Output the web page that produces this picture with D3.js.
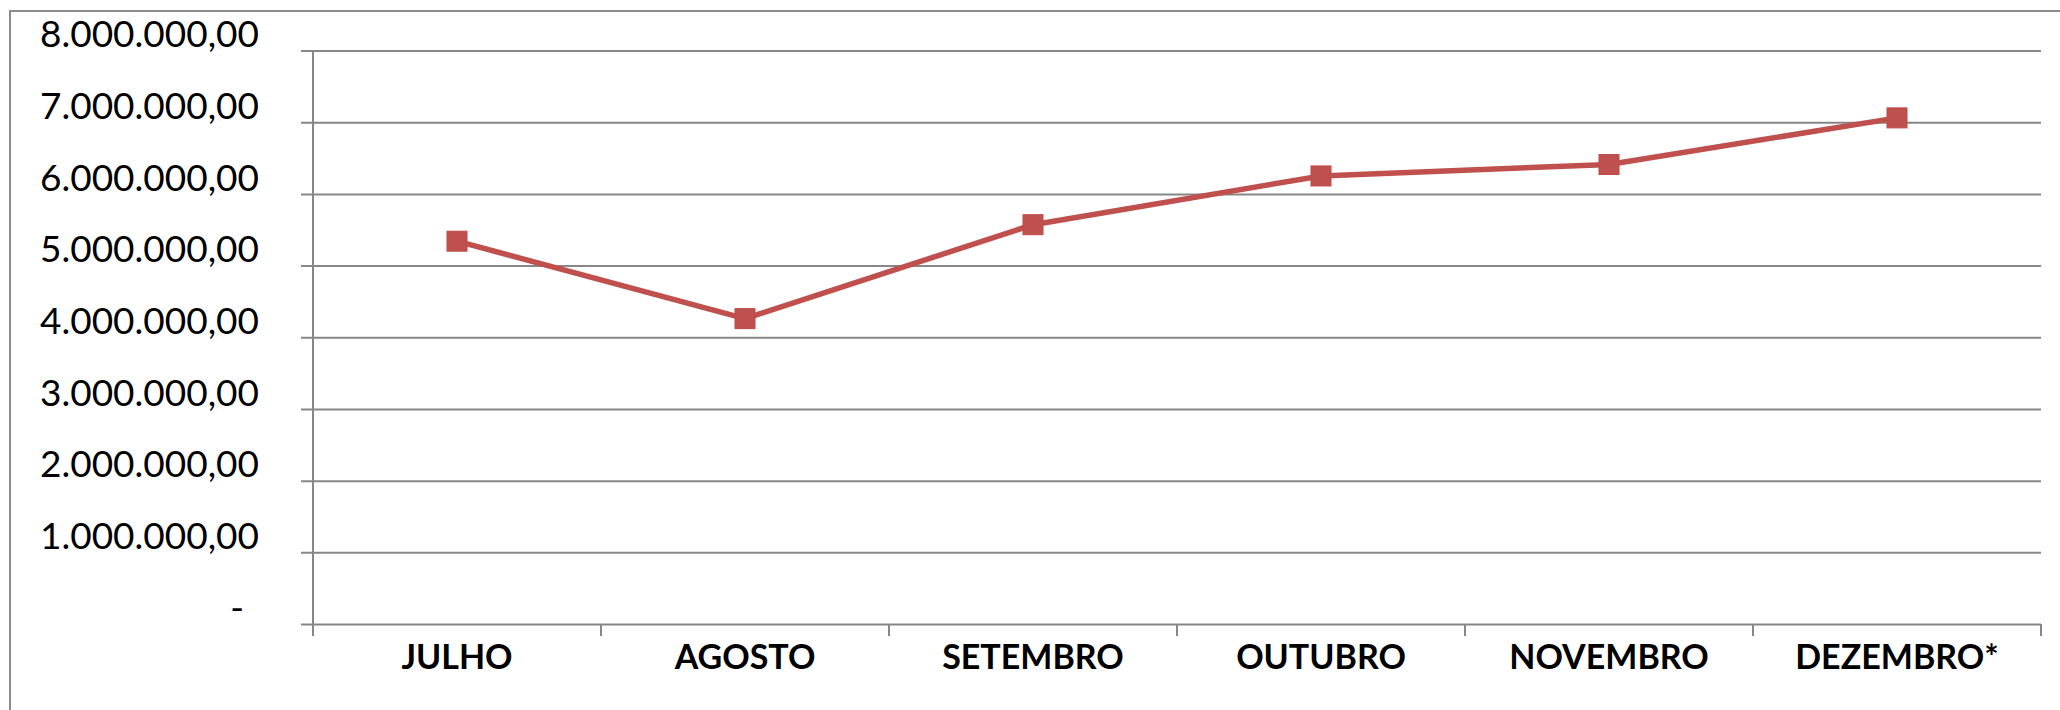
<!DOCTYPE html>
<html lang="pt">
<head>
<meta charset="UTF-8">
<title>Chart</title>
<script src="https://cdnjs.cloudflare.com/ajax/libs/d3/7.9.0/d3.min.js"></script>
<style>
    html, body { margin: 0; padding: 0; background: #fff; overflow: hidden; }
    svg { display: block; font-family: Lato, "Open Sans", sans-serif; }
</style>
</head>
<body>
<div id="chart"></div>
<script>
    // chart data
    const months = ["JULHO", "AGOSTO", "SETEMBRO", "OUTUBRO", "NOVEMBRO", "DEZEMBRO*"];
    const totals = [5340000, 4260000, 5570000, 6250000, 6410000, 7060000];
    const yTicks = [0, 1000000, 2000000, 3000000, 4000000, 5000000, 6000000, 7000000, 8000000];

    const W = 2060, H = 710;
    const margin = { top: 50.5, right: 19, bottom: 86, left: 313 };
    const width = W - margin.left - margin.right;
    const height = H - margin.top - margin.bottom;

    const ptBR = d3.formatLocale({ decimal: ",", thousands: ".", grouping: [3], currency: ["R$", ""] });
    const fmt = ptBR.format(",.2f");

    const svg = d3.select("#chart").append("svg")
        .attr("width", W)
        .attr("height", H);

    // outer chart frame (runs off the picture on the right and bottom)
    svg.append("rect")
        .attr("x", 10).attr("y", 11)
        .attr("width", W + 40).attr("height", H + 40)
        .attr("fill", "none")
        .attr("stroke", "#8c8c8c")
        .attr("stroke-width", 2);

    const g = svg.append("g")
        .attr("transform", `translate(${margin.left},${margin.top})`);

    const x = d3.scaleBand().domain(months).range([0, width]);
    const y = d3.scaleLinear().domain([0, 8000000]).range([height, 0]);

    // y gridlines + labels
    const yAxis = g.append("g")
        .attr("transform", "translate(-12,0)")
        .call(d3.axisLeft(y)
            .tickValues(yTicks)
            .tickSize(-(width + 12))
            .tickPadding(42)
            .tickFormat(d => d === 0 ? "-" : fmt(d)))
        .attr("font-family", "Lato, sans-serif");
    yAxis.select(".domain").remove();
    yAxis.selectAll(".tick line")
        .attr("stroke", "#878787")
        .attr("stroke-width", 2);
    yAxis.selectAll(".tick text")
        .attr("fill", "#000")
        .attr("font-size", 37)
        .attr("dy", "-0.1em")
        .attr("dx", d => d === 0 ? -15 : 0);

    // vertical axis line
    g.append("line")
        .attr("x1", 0).attr("x2", 0)
        .attr("y1", 0).attr("y2", height + 12)
        .attr("stroke", "#878787")
        .attr("stroke-width", 2);

    // category boundary ticks
    const bounds = months.map(m => x(m)).concat([x.range()[1]]);
    g.append("g").selectAll("line")
        .data(bounds)
        .enter().append("line")
        .attr("x1", d => d).attr("x2", d => d)
        .attr("y1", height).attr("y2", height + 12)
        .attr("stroke", "#878787")
        .attr("stroke-width", 2);

    // category labels
    const xAxis = g.append("g")
        .attr("transform", `translate(0,${height})`)
        .call(d3.axisBottom(x).tickSize(0).tickPadding(21))
        .attr("font-family", "Lato, sans-serif");
    xAxis.select(".domain").remove();
    xAxis.selectAll(".tick text")
        .attr("fill", "#000")
        .attr("font-size", 34)
        .attr("font-weight", "bold");

    // series line
    const cx = d => x(d) + x.bandwidth() / 2;
    const pts = months.map((m, i) => ({ m, v: totals[i] }));

    g.append("path")
        .datum(pts)
        .attr("fill", "none")
        .attr("stroke", "#C0504D")
        .attr("stroke-width", 5.5)
        .attr("stroke-linejoin", "round")
        .attr("d", d3.line().x(d => cx(d.m)).y(d => y(d.v)));

    g.selectAll(".marker")
        .data(pts)
        .enter().append("rect")
        .attr("class", "marker")
        .attr("x", d => cx(d.m) - 10)
        .attr("y", d => y(d.v) - 10)
        .attr("width", 20)
        .attr("height", 20)
        .attr("fill", "#C0504D")
        .attr("stroke", "#BE4B48")
        .attr("stroke-width", 1);
</script>
</body>
</html>
